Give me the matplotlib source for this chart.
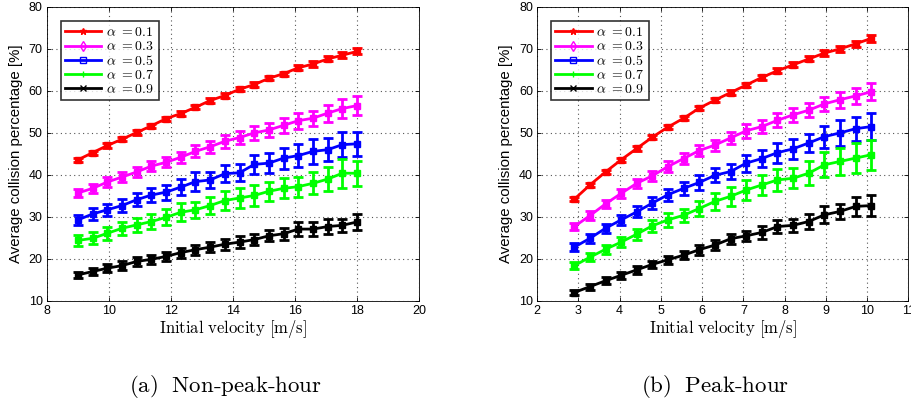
import numpy as np
import matplotlib
matplotlib.use("Agg")
import matplotlib.pyplot as plt

plt.rcParams['mathtext.fontset'] = 'cm'
plt.rcParams['font.family'] = ['Liberation Sans', 'DejaVu Sans']

# Initial velocities [m/s]
v_nonpeak = np.linspace(9, 18, 20)
v_peak = np.linspace(2.9, 10.1, 20)

alphas = ['0.1', '0.3', '0.5', '0.7', '0.9']
colors = ['#ff0000', '#ff00ff', '#0000ff', '#00ff00', '#000000']
markers = ['*', 'd', 's', '+', 'x']

# Non-peak-hour: mean collision percentage [%]
np_a01 = [43.6, 45.3, 47.0, 48.5, 50.1, 51.7, 53.4, 54.6, 56.1, 57.7,
          58.9, 60.4, 61.5, 63.0, 64.1, 65.5, 66.4, 67.6, 68.5, 69.4]
np_a03 = [35.7, 36.8, 38.3, 39.5, 40.7, 42.1, 43.0, 44.2, 45.6, 46.7,
          48.0, 48.9, 50.0, 50.7, 51.8, 52.9, 53.5, 54.7, 55.8, 56.5]
np_a05 = [29.3, 30.7, 31.7, 32.7, 34.1, 35.2, 35.9, 37.1, 38.4, 38.8,
          40.3, 40.5, 42.5, 42.8, 44.0, 44.6, 45.6, 46.0, 47.2, 47.4]
np_a07 = [24.4, 24.9, 26.1, 27.3, 28.1, 28.9, 29.9, 31.1, 31.7, 32.7,
          33.9, 34.5, 35.1, 36.1, 36.8, 37.2, 38.0, 39.0, 40.4, 40.4]
np_a09 = [16.2, 17.0, 17.8, 18.4, 19.4, 19.9, 20.6, 21.5, 22.2, 22.8,
          23.5, 24.0, 24.6, 25.5, 26.0, 27.1, 27.1, 27.7, 28.0, 28.8]

# Non-peak-hour: error bar half-widths [%]
np_e01 = [0.5, 0.5, 0.5, 0.5, 0.5, 0.5, 0.5, 0.5, 0.5, 0.5,
          0.5, 0.5, 0.5, 0.5, 0.5, 0.6, 0.6, 0.6, 0.7, 0.7]
np_e03 = [0.9, 1.0, 1.1, 1.1, 1.1, 1.2, 1.2, 1.3, 1.4, 1.4,
          1.5, 1.6, 1.7, 1.7, 1.8, 1.9, 1.8, 2.0, 2.3, 2.3]
np_e05 = [1.2, 1.4, 1.4, 1.5, 1.6, 1.6, 1.8, 1.9, 2.2, 2.0,
          2.1, 2.0, 2.2, 2.3, 2.5, 2.8, 2.9, 2.8, 2.9, 2.9]
np_e07 = [1.3, 1.4, 1.5, 1.5, 1.6, 1.7, 1.9, 2.1, 1.9, 2.0,
          2.2, 2.3, 2.4, 2.2, 2.4, 2.4, 2.6, 2.8, 3.4, 3.0]
np_e09 = [0.8, 0.9, 1.0, 1.0, 1.0, 1.0, 1.1, 1.2, 1.2, 1.2,
          1.3, 1.4, 1.3, 1.3, 1.4, 1.7, 1.6, 1.7, 1.6, 1.8]

# Peak-hour: mean collision percentage [%]
pk_a01 = [34.2, 37.6, 40.7, 43.6, 46.3, 49.0, 51.4, 53.5, 55.9, 57.8,
          59.6, 61.4, 63.2, 64.8, 66.2, 67.6, 69.0, 70.0, 71.2, 72.5]
pk_a03 = [27.7, 30.3, 33.1, 35.6, 38.0, 39.8, 42.0, 43.9, 45.8, 47.1,
          48.8, 50.5, 51.5, 53.0, 54.3, 55.4, 56.9, 57.9, 58.8, 59.8]
pk_a05 = [22.8, 24.9, 27.3, 29.3, 31.2, 33.3, 35.3, 36.8, 38.2, 39.9,
          40.8, 42.8, 43.9, 45.3, 46.2, 47.6, 49.1, 50.0, 51.0, 51.5]
pk_a07 = [18.4, 20.4, 22.3, 24.0, 25.9, 27.9, 29.3, 30.4, 32.0, 33.7,
          34.9, 36.4, 37.6, 38.8, 39.2, 40.4, 42.4, 43.2, 44.0, 44.8]
pk_a09 = [12.0, 13.4, 14.8, 16.1, 17.4, 18.7, 19.8, 20.9, 22.2, 23.3,
          24.8, 25.5, 26.3, 27.7, 28.0, 28.9, 30.5, 31.3, 32.5, 32.7]

# Peak-hour: error bar half-widths [%]
pk_e01 = [0.5, 0.5, 0.5, 0.5, 0.5, 0.5, 0.5, 0.5, 0.5, 0.5,
          0.5, 0.5, 0.5, 0.6, 0.6, 0.6, 0.7, 0.7, 0.7, 0.8]
pk_e03 = [0.9, 1.0, 1.0, 1.1, 1.1, 1.2, 1.2, 1.3, 1.3, 1.3,
          1.5, 1.6, 1.5, 1.7, 1.6, 1.6, 1.7, 1.9, 1.9, 2.0]
pk_e05 = [0.9, 1.0, 1.1, 1.2, 1.3, 1.4, 1.4, 1.5, 1.8, 1.7,
          1.8, 2.0, 2.0, 2.4, 2.3, 2.2, 2.6, 3.1, 2.9, 3.3]
pk_e07 = [0.8, 1.0, 1.1, 1.2, 1.3, 1.4, 1.6, 1.6, 1.9, 2.1,
          2.3, 2.4, 2.3, 2.7, 2.4, 2.9, 3.0, 3.2, 3.6, 3.6]
pk_e09 = [0.7, 0.7, 0.8, 0.8, 0.9, 0.9, 1.0, 1.0, 1.2, 1.2,
          1.2, 1.2, 1.5, 1.5, 1.6, 1.7, 2.0, 1.7, 2.2, 2.6]

nonpeak_means = [np_a01, np_a03, np_a05, np_a07, np_a09]
nonpeak_errs = [np_e01, np_e03, np_e05, np_e07, np_e09]
peak_means = [pk_a01, pk_a03, pk_a05, pk_a07, pk_a09]
peak_errs = [pk_e01, pk_e03, pk_e05, pk_e07, pk_e09]

fig = plt.figure(figsize=(9.12, 4.05), dpi=100)
ax1 = fig.add_axes([0.0515, 0.257, 0.408, 0.726])
ax2 = fig.add_axes([0.589, 0.257, 0.407, 0.726])


def draw(ax, v, means, errs, xlim, xticks):
    handles = []
    for m, e, c, mk, a in zip(means, errs, colors, markers, alphas):
        ax.errorbar(v, m, yerr=e, color=c, lw=2.0, elinewidth=2.0,
                    capsize=3.5, capthick=2.0, marker='s', ms=5,
                    mfc=c, mec=c, zorder=3)
        h, = ax.plot([], [], color=c, lw=2.0, marker=mk, ms=5,
                     mfc='none' if mk in ('d', 's') else c, mec=c,
                     mew=1.0, label=r'$\alpha\ {=}' + a + '$')
        handles.append(h)
    ax.set_xlim(*xlim)
    ax.set_ylim(10, 80)
    ax.set_xticks(xticks)
    ax.set_yticks(np.arange(10, 81, 10))
    ax.grid(True, linestyle=(0, (1, 3)), color='#555555', lw=0.8)
    ax.tick_params(direction='in', top=True, right=True, labelsize=9,
                   length=3, width=0.6, pad=3)
    for s in ax.spines.values():
        s.set_linewidth(0.6)
    ax.set_xlabel(r'$\mathrm{Initial\ velocity\ [m/s]}$', fontsize=12,
                  labelpad=1)
    ax.set_ylabel('Average collision percentage [%]', fontsize=10.8,
                  labelpad=4)
    leg = ax.legend(handles=handles, loc='upper left',
                    bbox_to_anchor=(0.038, 0.952), fontsize=10,
                    frameon=True, fancybox=False, handlelength=2.6,
                    handletextpad=0.35, labelspacing=0.02,
                    borderpad=0.3, borderaxespad=0)
    leg.get_frame().set_edgecolor('black')
    leg.get_frame().set_linewidth(1.2)


draw(ax1, v_nonpeak, nonpeak_means, nonpeak_errs, (8, 20),
     np.arange(8, 21, 2))
draw(ax2, v_peak, peak_means, peak_errs, (2, 11), np.arange(2, 12, 1))

fig.text(0.247, 0.045, r'$\mathrm{(a)\ \ Non\text{-}peak\text{-}hour}$',
         ha='center', va='center', fontsize=16.5)
fig.text(0.784, 0.045, r'$\mathrm{(b)\ \ Peak\text{-}hour}$',
         ha='center', va='center', fontsize=16.5)

fig.savefig('out.png', dpi=100)
